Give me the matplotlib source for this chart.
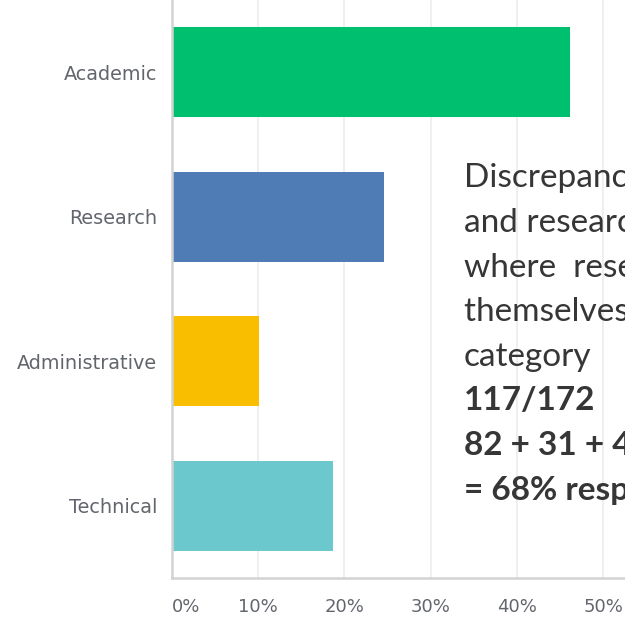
import matplotlib
matplotlib.use("Agg")
import matplotlib.pyplot as plt
from matplotlib.ticker import FuncFormatter

# Survey responses by staff category (% of respondents)
categories = ["Academic", "Research", "Administrative", "Technical"]
shares = [46.1, 24.6, 10.1, 18.7]
bar_colors = ["#00bf6f", "#507cb6", "#f9be00", "#6bc8cd"]
tick_values = [0, 10, 20, 30, 40, 50]

note_lines = [
    ("Discrepancy between", "normal"),
    ("and research staff", "normal"),
    ("where  researchers", "normal"),
    ("themselves identify", "normal"),
    ("category", "normal"),
    ("117/172", "bold"),
    ("82 + 31 + 4 = 117", "bold"),
    ("= 68% respondents", "bold"),
]

W, H, DPI = 625, 622, 100
fig = plt.figure(figsize=(W / DPI, H / DPI), dpi=DPI)

x0_px, x1_px = 171.5, 625
y_top_px, y_bot_px = 0, 578
ax = fig.add_axes([x0_px / W, 1 - y_bot_px / H,
                   (x1_px - x0_px) / W, (y_bot_px - y_top_px) / H])

px_per_10 = 86.36
xmax = (x1_px - x0_px) / px_per_10 * 10

ypos = list(range(len(categories)))
ax.barh(ypos, shares, height=0.62, color=bar_colors, zorder=3)
ax.set_ylim(len(categories) - 0.5, -0.5)
ax.set_xlim(0, xmax)

ax.set_yticks(ypos)
ax.set_yticklabels(categories)
ax.set_xticks(tick_values)
ax.xaxis.set_major_formatter(FuncFormatter(lambda v, p: f"{v:.0f}%"))

label_color = "#62666c"
ax.tick_params(axis="both", length=0, colors=label_color)
ax.tick_params(axis="y", pad=10.5, labelsize=13.9)
ax.tick_params(axis="x", pad=14.5, labelsize=13)
for lab in ax.get_xticklabels() + ax.get_yticklabels():
    lab.set_family("DejaVu Sans")
ax.get_xticklabels()[0].set_horizontalalignment("left")

ax.grid(axis="x", color="#ececec", linewidth=1.2, zorder=0)
ax.grid(axis="y", visible=False)
for side in ("top", "right"):
    ax.spines[side].set_visible(False)
for side in ("left", "bottom"):
    ax.spines[side].set_color("#d2d2d2")
    ax.spines[side].set_linewidth(1.8)
    ax.spines[side].set_zorder(4)

baselines = [187, 232, 277, 321, 366, 410, 455, 500]
for (txt, weight), yb in zip(note_lines, baselines):
    fig.text(464 / W, 1 - yb / H, txt, family="Lato", fontsize=24,
             fontweight=weight, color="#363636", ha="left", va="baseline")

fig.savefig("out.png", dpi=DPI)
